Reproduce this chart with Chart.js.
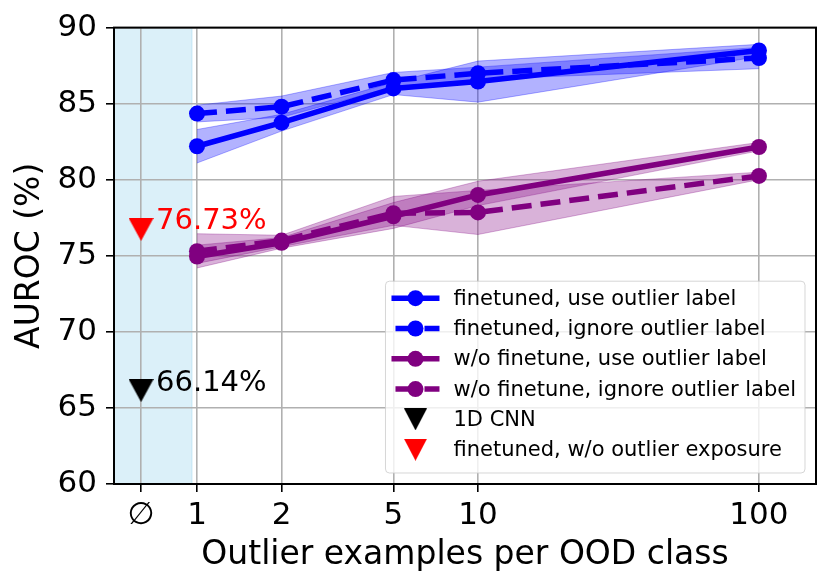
<!DOCTYPE html>
<html>
<head>
<meta charset="utf-8">
<script src="https://cdn.jsdelivr.net/npm/chart.js@4.4.1/dist/chart.umd.min.js"></script>
<style>
  html, body { margin: 0; padding: 0; background: #fff; }
  canvas { display: block; }
</style>
</head>
<body>
<canvas id="grafico" width="831" height="587"></canvas>
<script>
// ===== dados =====
const exemplos = [1, 2, 5, 10, 100];
const xTickVals = [0.632, 1, 2, 5, 10, 100];
const xTickLabels = ['\u2205', '1', '2', '5', '10', '100'];
const xNull = 0.632;          // posicao do "sem exemplos" (∅)
const xShadeEnd = 0.96;       // fim da faixa azul
const yTicks = [60, 65, 70, 75, 80, 85, 90];

const ftUse = [82.2, 83.75, 86.0, 86.45, 88.5];
const ftUseLow = [81.1, 83.2, 85.6, 85.1, 88.1];
const ftUseHigh = [83.3, 84.3, 86.4, 87.8, 88.9];

const ftIgnore = [84.35, 84.8, 86.55, 87.0, 88.0];
const ftIgnoreLow = [83.8, 84.1, 86.1, 86.6, 87.3];
const ftIgnoreHigh = [84.9, 85.5, 87.05, 87.4, 88.7];

const woUse = [74.95, 75.85, 77.6, 79.0, 82.15];
const woUseLow = [74.2, 75.5, 76.8, 78.3, 81.9];
const woUseHigh = [75.7, 76.2, 78.5, 79.9, 82.45];

const woIgnore = [75.3, 76.0, 77.8, 77.85, 80.25];
const woIgnoreLow = [74.5, 75.6, 77.0, 76.4, 80.0];
const woIgnoreHigh = [76.45, 76.35, 78.9, 79.3, 80.5];

const cnnValue = 66.14;
const ftNoOeValue = 76.73;

const legendLabels = [
    'finetuned, use outlier label',
    'finetuned, ignore outlier label',
    'w/o finetune, use outlier label',
    'w/o finetune, ignore outlier label',
    '1D CNN',
    'finetuned, w/o outlier exposure'
];

// ===== estilos =====
const AZUL = '#0000ff', ROXO = '#800080';
const AZUL_BANDA = 'rgba(0,0,255,0.3)', ROXO_BANDA = 'rgba(128,0,128,0.3)';
const LW = 5.5, DASH = [20, 9], RAIO = 8;
const FONTE = 'DejaVu Sans';

Chart.defaults.font.family = FONTE;

const pts = (vals) => exemplos.map((x, i) => ({ x: x, y: vals[i] }));

// triangulo para baixo centrado na caixa (como o marcador 'v')
function trianguloImg(cor, w, h) {
    const c = document.createElement('canvas');
    c.width = w; c.height = h;
    const g = c.getContext('2d');
    g.fillStyle = cor;
    g.beginPath();
    g.moveTo(0, 0);
    g.lineTo(w, 0);
    g.lineTo(w / 2, h);
    g.closePath();
    g.fill();
    return c;
}

function banda(high, low, cor) {
    return [
        { data: pts(high), borderColor: cor, backgroundColor: cor, borderWidth: 1, pointRadius: 0, fill: false, order: 10 },
        { data: pts(low), borderColor: cor, backgroundColor: cor, borderWidth: 1, pointRadius: 0, fill: '-1', order: 10 }
    ];
}

function linha(vals, cor, tracejado) {
    return {
        data: pts(vals),
        borderColor: cor,
        backgroundColor: cor,
        borderWidth: LW,
        borderDash: tracejado ? DASH : [],
        pointRadius: RAIO,
        pointBackgroundColor: cor,
        pointBorderWidth: 0,
        fill: false,
        order: 5
    };
}

function triangulo(valor, cor) {
    return {
        data: [{ x: xNull, y: valor }],
        showLine: false,
        pointStyle: trianguloImg(cor, 25, 23),
        pointRadius: 12,
        order: 1
    };
}

const datasets = [
    ...banda(ftUseHigh, ftUseLow, AZUL_BANDA),
    ...banda(ftIgnoreHigh, ftIgnoreLow, AZUL_BANDA),
    ...banda(woUseHigh, woUseLow, ROXO_BANDA),
    ...banda(woIgnoreHigh, woIgnoreLow, ROXO_BANDA),
    linha(ftUse, AZUL, false),
    linha(ftIgnore, AZUL, true),
    linha(woUse, ROXO, false),
    linha(woIgnore, ROXO, true),
    triangulo(cnnValue, '#000000'),
    triangulo(ftNoOeValue, '#ff0000')
];

const legendStyles = [
    { cor: AZUL, tipo: 'linha', dash: false },
    { cor: AZUL, tipo: 'linha', dash: true },
    { cor: ROXO, tipo: 'linha', dash: false },
    { cor: ROXO, tipo: 'linha', dash: true },
    { cor: '#000000', tipo: 'tri' },
    { cor: '#ff0000', tipo: 'tri' }
];

// faixa azul (sem exemplos de outlier)
const faixaPlugin = {
    id: 'faixa',
    beforeDraw(chart) {
        const { ctx, chartArea: a, scales: { x } } = chart;
        const xEnd = x.getPixelForValue(xShadeEnd);
        ctx.save();
        ctx.fillStyle = 'rgba(135,206,235,0.3)';
        ctx.fillRect(a.left, a.top, xEnd - a.left, a.bottom - a.top);
        ctx.strokeStyle = 'rgba(135,206,235,0.35)';
        ctx.lineWidth = 1;
        ctx.beginPath();
        ctx.moveTo(xEnd, a.top);
        ctx.lineTo(xEnd, a.bottom);
        ctx.stroke();
        ctx.restore();
    }
};

// moldura, anotacoes e legenda
const extrasPlugin = {
    id: 'extras',
    afterDatasetsDraw(chart) {
        const { ctx, chartArea: a, scales: { x, y } } = chart;
        ctx.save();
        ctx.strokeStyle = '#000';
        ctx.lineWidth = 2;
        ctx.strokeRect(a.left, a.top, a.right - a.left, a.bottom - a.top);

        ctx.font = '29px "' + FONTE + '"';
        ctx.textBaseline = 'alphabetic';
        ctx.textAlign = 'left';
        const px = x.getPixelForValue(xNull) + 15;
        ctx.fillStyle = '#ff0000';
        ctx.fillText(ftNoOeValue.toFixed(2) + '%', px, y.getPixelForValue(ftNoOeValue));
        ctx.fillStyle = '#000';
        ctx.fillText(cnnValue.toFixed(2) + '%', px, y.getPixelForValue(cnnValue));
        ctx.restore();
    },
    afterDraw(chart) {
        const { ctx, chartArea: a } = chart;
        ctx.save();
        ctx.font = '21px "' + FONTE + '"';
        const larg = Math.max(...legendLabels.map(t => ctx.measureText(t).width));
        const rowH = 30.3;
        const w = 68 + larg + 9, h = legendLabels.length * rowH + 10;
        const x0 = a.right - 11 - w, y0 = a.bottom - 11 - h;

        ctx.beginPath();
        ctx.roundRect(x0, y0, w, h, 4);
        ctx.fillStyle = 'rgba(255,255,255,0.8)';
        ctx.fill();
        ctx.strokeStyle = 'rgba(204,204,204,0.8)';
        ctx.lineWidth = 1;
        ctx.stroke();

        legendLabels.forEach((txt, i) => {
            const st = legendStyles[i];
            const cy = y0 + 17 + i * rowH;
            const hx = x0 + 30;
            if (st.tipo === 'linha') {
                ctx.beginPath();
                ctx.strokeStyle = st.cor;
                ctx.lineWidth = LW;
                ctx.setLineDash(st.dash ? DASH : []);
                ctx.lineDashOffset = st.dash ? -4 : 0;
                ctx.moveTo(x0 + 6, cy);
                ctx.lineTo(x0 + 54, cy);
                ctx.stroke();
                ctx.setLineDash([]);
                ctx.fillStyle = st.cor;
                ctx.beginPath();
                ctx.arc(hx, cy, RAIO, 0, Math.PI * 2);
                ctx.fill();
            } else {
                ctx.drawImage(trianguloImg(st.cor, 23, 22), hx - 11.5, cy - 11);
            }
            ctx.fillStyle = '#000';
            ctx.textBaseline = 'middle';
            ctx.textAlign = 'left';
            ctx.fillText(txt, x0 + 68, cy + 1);
        });
        ctx.restore();
    }
};

new Chart(document.getElementById('grafico'), {
    type: 'line',
    data: { datasets: datasets },
    plugins: [faixaPlugin, extrasPlugin],
    options: {
        responsive: false,
        animation: false,
        devicePixelRatio: 1,
        layout: { padding: { top: 27, right: 15, left: 0, bottom: 0 } },
        plugins: {
            legend: { display: false },
            tooltip: { enabled: false }
        },
        scales: {
            x: {
                type: 'logarithmic',
                min: 0.5065,
                max: 159.6,
                afterBuildTicks: (axis) => { axis.ticks = xTickVals.map(v => ({ value: v })); },
                afterFit: (s) => { s.height = 103; },
                ticks: {
                    callback: (v, i) => xTickLabels[i],
                    font: { size: 31 },
                    color: '#000',
                    padding: 5,
                    maxRotation: 0,
                    autoSkip: false
                },
                grid: { color: '#b0b0b0', lineWidth: 1.6, tickColor: '#000', tickLength: 8, tickWidth: 1.6 },
                border: { display: false },
                title: { display: true, text: 'Outlier examples per OOD class', font: { size: 33 }, color: '#000', padding: { top: 20, bottom: 12 } }
            },
            y: {
                type: 'linear',
                min: 60,
                max: 90,
                afterBuildTicks: (axis) => { axis.ticks = yTicks.map(v => ({ value: v })); },
                afterFit: (s) => { s.width = 114; },
                ticks: { font: { size: 31 }, color: '#000', padding: 9 },
                grid: { color: '#b0b0b0', lineWidth: 1.6, tickColor: '#000', tickLength: 8, tickWidth: 1.6 },
                border: { display: false },
                title: { display: true, text: 'AUROC (%)', font: { size: 33 }, color: '#000', padding: { top: 11, bottom: 0 } }
            }
        }
    }
});
</script>
</body>
</html>
